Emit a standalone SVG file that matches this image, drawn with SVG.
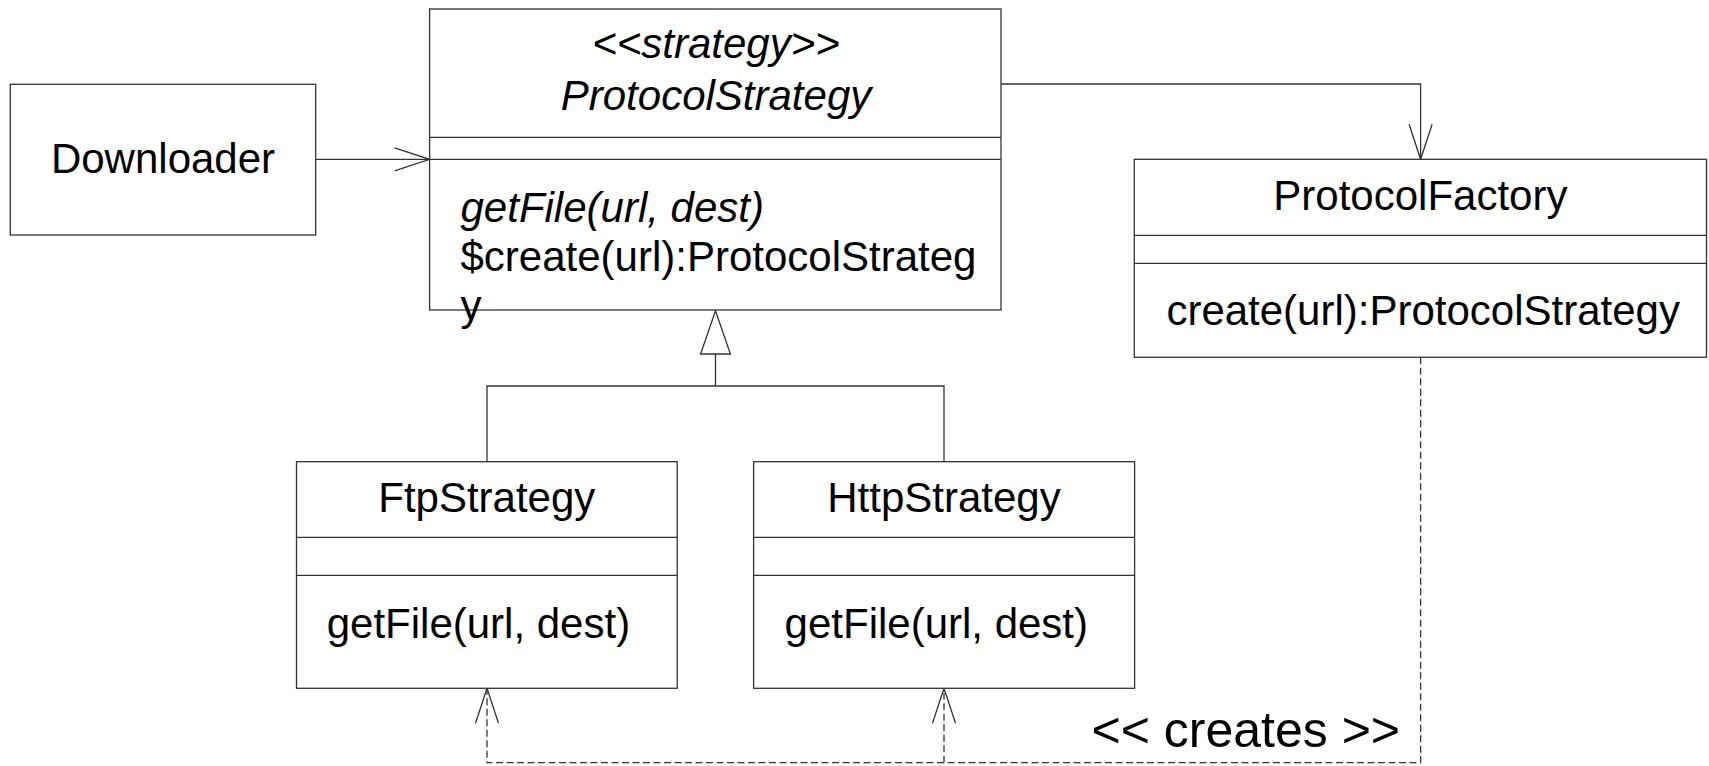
<svg xmlns="http://www.w3.org/2000/svg" width="1709" height="766" viewBox="0 0 1709 766">
<style>
.box{fill:#fff;stroke:#333;stroke-width:1.3}
.sep{stroke:#333;stroke-width:1.3}
.t{font-family:"Liberation Sans",Arial,sans-serif;font-size:42px;fill:#000}
.i{font-style:italic}
.c{text-anchor:middle}
.ln{fill:none;stroke:#333;stroke-width:1.3}
.dash{fill:none;stroke:#333;stroke-width:1.3;stroke-dasharray:7,3.5}
</style>
<defs>
<marker id="open" markerUnits="userSpaceOnUse" markerWidth="40" markerHeight="30" viewBox="-37 -14 40 28" refX="0" refY="0" orient="auto" overflow="visible">
<path d="M-35,-11.5 L0,0 L-35,11.5" fill="none" stroke="#333" stroke-width="1.3"/>
</marker>
</defs>
<rect width="1709" height="766" fill="#fff"/>
<g id="connectors">
<path class="ln" d="M315.7,159.3 H429.6" marker-end="url(#open)"/>
<path class="ln" d="M1001,84 H1420.6 V159.3" marker-end="url(#open)"/>
<path class="ln" d="M487,461.7 V386 H944 V461.7"/>
<path class="ln" d="M715.5,386 V354"/>
<polygon points="715.5,310.7 700.6,354 730.4,354" fill="#fff" stroke="#333" stroke-width="1.3"/>
<path class="dash" d="M1420.6,357.3 V762.7 H487 V688.3" marker-end="url(#open)"/>
<path class="dash" d="M944,762.7 V688.3" marker-end="url(#open)"/>
<text class="t" x="1091.5" y="747" style="font-size:50px">&lt;&lt; creates &gt;&gt;</text>
</g>
<g id="downloader">
<rect class="box" x="10.3" y="84.3" width="305.4" height="150.7"/>
<text class="t c" x="163" y="172.5">Downloader</text>
</g>
<g id="protocolStrategy">
<rect class="box" x="429.6" y="9" width="571.4" height="301"/>
<line class="sep" x1="429.6" y1="137.3" x2="1001" y2="137.3"/>
<line class="sep" x1="429.6" y1="159.3" x2="1001" y2="159.3"/>
<text class="t i c" x="716" y="58">&lt;&lt;strategy&gt;&gt;</text>
<text class="t i c" x="716" y="110">ProtocolStrategy</text>
<text class="t i" x="460.5" y="221.5">getFile(url, dest)</text>
<text class="t" x="460.5" y="270.5">$create(url):ProtocolStrateg</text>
<text class="t" x="460.5" y="319.5">y</text>
</g>
<g id="protocolFactory">
<rect class="box" x="1134.3" y="159.3" width="572.2" height="198"/>
<line class="sep" x1="1134.3" y1="235.3" x2="1706.5" y2="235.3"/>
<line class="sep" x1="1134.3" y1="263.3" x2="1706.5" y2="263.3"/>
<text class="t c" x="1420.4" y="210">ProtocolFactory</text>
<text class="t" x="1166.4" y="325">create(url):ProtocolStrategy</text>
</g>
<g id="ftpStrategy">
<rect class="box" x="296.5" y="461.7" width="380.7" height="226.6"/>
<line class="sep" x1="296.5" y1="537.3" x2="677.2" y2="537.3"/>
<line class="sep" x1="296.5" y1="575.3" x2="677.2" y2="575.3"/>
<text class="t c" x="486.8" y="511.7">FtpStrategy</text>
<text class="t" x="326.7" y="638">getFile(url, dest)</text>
</g>
<g id="httpStrategy">
<rect class="box" x="753.6" y="461.7" width="381" height="226.6"/>
<line class="sep" x1="753.6" y1="537.3" x2="1134.6" y2="537.3"/>
<line class="sep" x1="753.6" y1="575.3" x2="1134.6" y2="575.3"/>
<text class="t c" x="944" y="511.7">HttpStrategy</text>
<text class="t" x="784.6" y="638">getFile(url, dest)</text>
</g>
</svg>
